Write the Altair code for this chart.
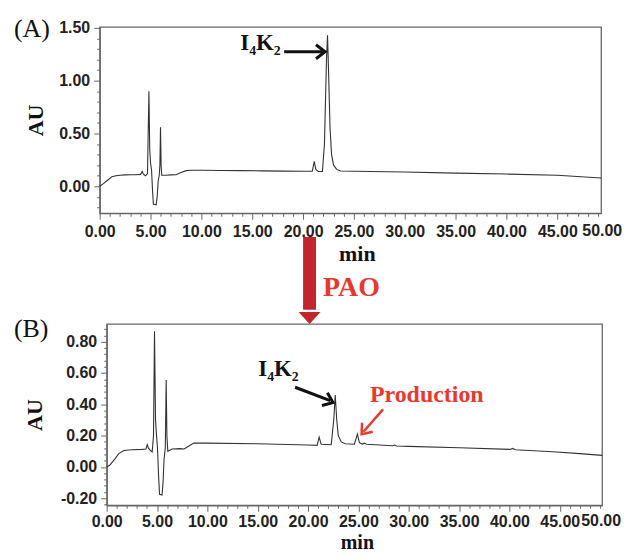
import altair as alt
import pandas as pd

# ---------------- Panel (A): before PAO ----------------
time_a = [0, 0.3, 0.8, 1.2, 1.6, 2.0, 2.5, 3.0, 3.5, 4.0, 4.1, 4.18, 4.3, 4.5, 4.7, 4.84,
          4.92, 5.0, 5.1, 5.2, 5.28, 5.55, 5.65, 5.75, 5.85, 5.92, 5.98, 6.04, 6.1, 6.5,
          7.0, 7.5, 8.0, 8.5, 9.0, 10, 12, 14, 16, 18, 20, 20.9, 21.1, 21.25, 21.5, 21.9,
          22.1, 22.3, 22.4, 22.5, 22.65, 22.8, 23.0, 23.3, 23.7, 25, 30, 35, 40, 45, 49.3]
au_a = [0, 0.02, 0.06, 0.09, 0.1, 0.105, 0.108, 0.11, 0.11, 0.113, 0.125, 0.14, 0.115, 0.1, 0.12, 0.9,
        0.35, 0.22, 0.15, -0.05, -0.17, -0.175, -0.1, 0.05, 0.1, 0.2, 0.56, 0.2, 0.105, 0.105,
        0.108, 0.11, 0.13, 0.148, 0.152, 0.152, 0.15, 0.148, 0.146, 0.144, 0.142, 0.142, 0.236, 0.16, 0.14, 0.14,
        0.4, 1.2, 1.43, 1.1, 0.55, 0.3, 0.2, 0.16, 0.145, 0.142, 0.135, 0.125, 0.116, 0.104, 0.078]

# ---------------- Panel (B): after PAO ----------------
time_b = [0, 0.3, 0.8, 1.2, 1.7, 2.5, 3.5, 3.9, 4.03, 4.15, 4.35, 4.52, 4.65, 4.75, 4.85, 4.95,
          5.05, 5.15, 5.25, 5.5, 5.6, 5.7, 5.82, 5.91, 5.98, 6.07, 6.5, 7.3, 7.7, 8.2, 8.65,
          10, 15, 20, 20.9, 21.1, 21.3, 22.3, 22.55, 22.7, 22.85, 23.0, 23.3, 23.7, 24.6, 24.9,
          25.1, 25.4, 25.6, 25.8, 28.4, 28.6, 28.8, 30, 35, 40.1, 40.3, 40.6, 44.3, 47, 49.2]
au_b = [0, 0.01, 0.05, 0.085, 0.105, 0.11, 0.112, 0.115, 0.143, 0.12, 0.105, 0.096, 0.2, 0.867, 0.3, 0.2,
        0.12, -0.05, -0.175, -0.18, -0.1, 0.05, 0.12, 0.556, 0.2, 0.1, 0.115, 0.117, 0.115, 0.135, 0.152,
        0.152, 0.148, 0.14, 0.138, 0.19, 0.145, 0.142, 0.3, 0.46, 0.3, 0.2, 0.16, 0.148, 0.145, 0.21,
        0.155, 0.146, 0.152, 0.145, 0.135, 0.14, 0.134, 0.131, 0.122, 0.112, 0.118, 0.11, 0.097, 0.085, 0.074]

# ---------------- axis tick values ----------------
x_ticks = list(range(0, 50))
y_ticks_a = [round(-0.2 + 0.1 * i, 2) for i in range(18)]
y_ticks_b = [round(-0.24 + 0.04 * i, 2) for i in range(29)]

# ---------------- annotation data ----------------
ann_a_text = pd.DataFrame({"t": [13.82], "au": [1.288], "label": ["I\u2084K\u2082"]})
ann_a_arrow = pd.DataFrame({"t": [18.14], "au": [1.274], "t2": [21.9], "au2": [1.274]})
ann_a_head = pd.DataFrame({"t": [22.16], "au": [1.274]})
ann_a_panel = pd.DataFrame({"t": [-8.43], "au": [1.49], "label": ["(A)"]})
pao_shaft = pd.DataFrame({"t": [20.0], "t2": [21.27], "au": [-0.481], "au2": [-1.170]})
pao_text = pd.DataFrame({"t": [21.96], "au": [-1.038], "label": ["PAO"]})
last_label = pd.DataFrame({"t": [50], "label": ["50.00"]})

ann_b_text = pd.DataFrame({"t": [15.05], "au": [0.583], "label": ["I\u2084K\u2082"]})
ann_b_arrow = pd.DataFrame({"t": [18.71], "au": [0.509], "t2": [22.2], "au2": [0.423]})
ann_b_head = pd.DataFrame({"t": [22.48], "au": [0.411]})
ann_b_panel = pd.DataFrame({"t": [-9.21], "au": [0.883], "label": ["(B)"]})
prod_text = pd.DataFrame({"t": [26.14], "au": [0.413], "label": ["Production"]})
prod_arrow = pd.DataFrame({"t": [27.45], "au": [0.368], "t2": [25.5], "au2": [0.225]})
prod_head = pd.DataFrame({"t": [25.32], "au": [0.209]})
pao_head = pd.DataFrame({"t": [20.15], "au": [0.951]})
spacer_data = pd.DataFrame({"t": [0]})

FRAME = "#666666"
TRACE = "#333333"
RED = "#e8392f"
DARKRED = "#c3252c"
SERIF = "Liberation Serif"
SANS = "Liberation Sans"
CHEVRON = "M-1.3,-1L0,0L-1.3,1"
TRIANGLE = "M-1,-0.55L1,-0.55L0,0.55Z"

fmt2 = "(datum.value < 0 ? '-' + format(-datum.value, '.2f') : format(datum.value, '.2f'))"


def x_axis(title_x, title_y, label_pad, title_size):
    return alt.Axis(
        values=x_ticks,
        tickCount=1000,
        labelExpr="datum.value % 5 === 0 ? format(datum.value, '.2f') : ''",
        tickSize={"condition": {"test": "datum.value % 5 === 0", "value": 6}, "value": 3},
        labelPadding=label_pad,
        labelOverlap=False,
        labelFlush=False,
        title="min",
        titleFontSize=title_size,
        titleX=title_x,
        titleY=title_y,
        titleBaseline="alphabetic",
    )


def y_axis(values, test, title_x, title_y):
    return alt.Axis(
        values=values,
        tickCount=1000,
        labelExpr=f"({test}) ? {fmt2} : ''",
        tickSize={"condition": {"test": test, "value": 6}, "value": 3},
        labelPadding=4,
        labelOverlap=False,
        labelFlush=False,
        title="AU",
        titleX=title_x,
        titleY=title_y,
        titleBaseline="middle",
        titleAngle=-90,
    )


def base_layers(time, au, xdom, ydom, h, yvals, ytest, ytitle_x, xtitle_x, xtitle_y,
                dx50, label_pad, xtitle_size):
    xs = alt.Scale(domain=xdom, nice=False, zero=False)
    ys = alt.Scale(domain=ydom, nice=False, zero=False)
    df = pd.DataFrame({"t": time, "au": au})
    line = alt.Chart(df).mark_line(color=TRACE, strokeWidth=1.1).encode(
        x=alt.X("t:Q", scale=xs, axis=x_axis(xtitle_x, xtitle_y, label_pad, xtitle_size)),
        y=alt.Y("au:Q", scale=ys, axis=y_axis(yvals, ytest, ytitle_x, h / 2)),
    )
    lab50 = alt.Chart(last_label).mark_text(
        font=SANS, fontWeight="bold", fontSize=16, color="#222", baseline="top",
        align="center", dx=dx50
    ).encode(x="t:Q", y=alt.value(h + 6 + label_pad), text="label:N")
    return line, lab50


def text_layer(df, size, color, font=SERIF, weight="bold", baseline="alphabetic"):
    return alt.Chart(df).mark_text(
        font=font, fontSize=size, fontWeight=weight, color=color, align="left", baseline=baseline
    ).encode(x="t:Q", y="au:Q", text="label:N")


def rule_layer(df, color, width):
    return alt.Chart(df).mark_rule(color=color, strokeWidth=width).encode(
        x="t:Q", y="au:Q", x2="t2:Q", y2="au2:Q"
    )


def head_layer(df, color, width, angle):
    return alt.Chart(df).mark_point(
        shape=CHEVRON, filled=False, stroke=color, strokeWidth=width, size=196,
        angle=angle, opacity=1, strokeJoin="miter"
    ).encode(x="t:Q", y="au:Q")


# ---------- top panel ----------
H_A = 187
line_a, lab50_a = base_layers(
    time_a, au_a, [0, 49.3], [-0.255, 1.51], H_A,
    y_ticks_a, "abs(datum.value*2 - round(datum.value*2)) < 0.000001", -64, 258, 47, -6, 4, 22,
)
top = alt.layer(
    line_a,
    lab50_a,
    text_layer(ann_a_text, 23, "#111"),
    rule_layer(ann_a_arrow, "#111", 3),
    head_layer(ann_a_head, "#111", 3, 0),
    text_layer(ann_a_panel, 26, "#111", weight="normal", baseline="middle"),
    alt.Chart(pao_shaft).mark_rect(color=DARKRED).encode(x="t:Q", x2="t2:Q", y="au:Q", y2="au2:Q"),
    text_layer(pao_text, 28, RED),
).properties(width=503, height=H_A)

# ---------- bottom panel ----------
H_B = 182
line_b, lab50_b = base_layers(
    time_b, au_b, [0, 49.2], [-0.245, 0.914], H_B,
    y_ticks_b, "abs(datum.value*5 - round(datum.value*5)) < 0.000001", -72, 251, 43, -9, 2, 20,
)
bottom = alt.layer(
    line_b,
    lab50_b,
    text_layer(ann_b_text, 23, "#111"),
    rule_layer(ann_b_arrow, "#111", 3),
    head_layer(ann_b_head, "#111", 3, 22.8),
    text_layer(ann_b_panel, 26, "#111", weight="normal", baseline="middle"),
    text_layer(prod_text, 24, RED),
    rule_layer(prod_arrow, RED, 2.5),
    head_layer(prod_head, RED, 2.5, 129.7),
    alt.Chart(pao_head).mark_point(
        shape=TRIANGLE, filled=True, color=DARKRED, size=484, opacity=1
    ).encode(x="t:Q", y="au:Q"),
).properties(width=497, height=H_B)

# invisible spacer that shifts panel (B) 7 px to the right, as in the original figure
spacer = alt.Chart(spacer_data).mark_point(opacity=0, size=1).properties(
    width=7, height=1, view=alt.ViewBackground(stroke=None)
)
bottom_row = alt.hconcat(spacer, bottom, spacing=0, bounds="flush")

chart = alt.vconcat(top, bottom_row, spacing=0).configure_view(
    stroke=FRAME, strokeWidth=1.3
).configure_axis(
    grid=False,
    domainColor=FRAME,
    domainWidth=1.3,
    tickColor=FRAME,
    tickWidth=1,
    labelFont=SANS,
    labelFontWeight="bold",
    labelFontSize=16,
    labelColor="#222",
    titleFont=SERIF,
    titleFontWeight="bold",
    titleFontSize=22,
    titleColor="#111",
).properties(
    padding={"left": 5, "top": 6, "right": 0, "bottom": 0},
    background="white",
)

chart.save("out.html", embed_options={"renderer": "svg", "actions": False})
